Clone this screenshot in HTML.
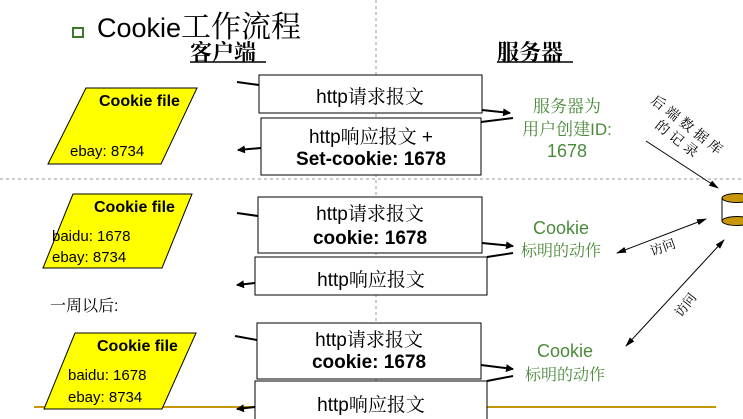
<!DOCTYPE html>
<html><head><meta charset="utf-8"><style>
html,body{margin:0;padding:0;background:#fff}
svg{display:block}
text{font-family:"Liberation Sans","Noto Serif CJK SC",sans-serif}
.g{fill:#4a8a3a}
</style></head><body>
<svg width="743" height="419" viewBox="0 0 743 419" xmlns="http://www.w3.org/2000/svg">
<defs>
<marker id="a" markerWidth="8" markerHeight="8" refX="7" refY="4" orient="auto" markerUnits="userSpaceOnUse"><path d="M0,0 L8,4 L0,8 z" fill="#000"/></marker>
<marker id="b" markerWidth="10" markerHeight="8" refX="9" refY="4" orient="auto" markerUnits="userSpaceOnUse"><path d="M0,1 L10,4 L0,7 z" fill="#000"/></marker>
<marker id="s" markerWidth="10" markerHeight="8" refX="1" refY="4" orient="auto" markerUnits="userSpaceOnUse"><path d="M10,1 L0,4 L10,7 z" fill="#000"/></marker>
</defs>
<line x1="376" y1="0" x2="376" y2="419" stroke="#999" stroke-dasharray="3,3"/>
<line x1="0" y1="179" x2="743" y2="179" stroke="#999" stroke-dasharray="3,3"/>
<line x1="34" y1="407" x2="716" y2="407" stroke="#c8960a" stroke-width="2"/>
<!-- title -->
<rect x="73" y="28" width="10" height="9" fill="#fff" stroke="#3c7a2a" stroke-width="2"/>
<text x="97" y="37" font-size="27">Cookie<tspan font-size="30">工作流程</tspan></text>
<text x="190" y="60" font-size="22" font-weight="bold">客户端</text>
<line x1="190" y1="62" x2="266" y2="62" stroke="#000" stroke-width="1.5"/>
<text x="497" y="60" font-size="22" font-weight="bold">服务器</text>
<line x1="497" y1="62" x2="573" y2="62" stroke="#000" stroke-width="1.5"/>
<!-- parallelograms -->
<polygon points="86,88 197,88 161,164 48,164" fill="#ffff00" stroke="#000"/>
<text x="99" y="106" font-size="16" font-weight="bold">Cookie file</text>
<text x="70" y="156" font-size="15">ebay: 8734</text>
<polygon points="73,194 192,194 162,268 43,268" fill="#ffff00" stroke="#000"/>
<text x="94" y="212" font-size="16" font-weight="bold">Cookie file</text>
<text x="52" y="241" font-size="15">baidu: 1678</text>
<text x="52" y="262" font-size="15">ebay: 8734</text>
<polygon points="75,333 196,333 162,409 44,409" fill="#ffff00" stroke="#000"/>
<text x="97" y="351" font-size="16" font-weight="bold">Cookie file</text>
<text x="68" y="380" font-size="15">baidu: 1678</text>
<text x="68" y="402" font-size="15">ebay: 8734</text>
<!-- boxes -->
<rect x="259" y="75" width="223" height="38" fill="#fff" stroke="#000"/>
<text x="370" y="103" font-size="19" text-anchor="middle">http请求报文</text>
<rect x="261" y="118" width="220" height="57" fill="#fff" stroke="#000"/>
<text x="371" y="143" font-size="19" text-anchor="middle">http响应报文 +</text>
<text x="371" y="165" font-size="19" font-weight="bold" text-anchor="middle">Set-cookie: 1678</text>
<rect x="258" y="197" width="224" height="56" fill="#fff" stroke="#000"/>
<text x="370" y="220" font-size="19" text-anchor="middle">http请求报文</text>
<text x="370" y="244" font-size="19" font-weight="bold" text-anchor="middle">cookie: 1678</text>
<rect x="255" y="257" width="232" height="38" fill="#fff" stroke="#000"/>
<text x="371" y="286" font-size="19" text-anchor="middle">http响应报文</text>
<rect x="257" y="323" width="224" height="56" fill="#fff" stroke="#000"/>
<text x="369" y="346" font-size="19" text-anchor="middle">http请求报文</text>
<text x="369" y="368" font-size="19" font-weight="bold" text-anchor="middle">cookie: 1678</text>
<rect x="255" y="381" width="232" height="45" fill="#fff" stroke="#000"/>
<text x="371" y="411" font-size="19" text-anchor="middle">http响应报文</text>
<!-- connector lines -->
<g stroke="#000" stroke-width="2">
<line x1="237" y1="82" x2="259" y2="85"/>
<line x1="261" y1="148" x2="238" y2="150" marker-end="url(#a)"/>
<line x1="482" y1="110" x2="510" y2="113" marker-end="url(#a)"/>
<line x1="481" y1="122" x2="513" y2="118"/>
<line x1="237" y1="213" x2="258" y2="216"/>
<line x1="482" y1="243" x2="513" y2="246" marker-end="url(#a)"/>
<line x1="487" y1="257" x2="513" y2="253"/>
<line x1="255" y1="283" x2="237" y2="285" marker-end="url(#a)"/>
<line x1="235" y1="336" x2="257" y2="340"/>
<line x1="481" y1="365" x2="513" y2="369" marker-end="url(#a)"/>
<line x1="487" y1="381" x2="513" y2="376"/>
<line x1="255" y1="407" x2="237" y2="409" marker-end="url(#a)"/>
</g>
<!-- green -->
<text class="g" x="567" y="112" font-size="17" text-anchor="middle">服务器为</text>
<text class="g" x="567" y="135" font-size="17" text-anchor="middle">用户创建ID:</text>
<text class="g" x="567" y="157" font-size="18" text-anchor="middle">1678</text>
<text class="g" x="561" y="234" font-size="18" text-anchor="middle">Cookie</text>
<text class="g" x="561" y="256" font-size="16" text-anchor="middle">标明的动作</text>
<text class="g" x="565" y="357" font-size="18" text-anchor="middle">Cookie</text>
<text class="g" x="565" y="380" font-size="16" text-anchor="middle">标明的动作</text>
<text x="50" y="311" font-size="16">一周以后:</text>
<!-- right side -->
<text transform="translate(650,102) rotate(38)" font-size="14" letter-spacing="4">后端数据库</text>
<text transform="translate(654,127) rotate(38)" font-size="14" letter-spacing="4">的记录</text>
<line x1="646" y1="141" x2="718" y2="188" stroke="#000" stroke-width="1" marker-end="url(#b)"/>
<rect x="722" y="198" width="25" height="23" fill="#fff" stroke="none"/>
<line x1="722" y1="198" x2="722" y2="221" stroke="#000"/>
<ellipse cx="737" cy="221" rx="15" ry="4.5" fill="#c8960a" stroke="#000"/>
<ellipse cx="737" cy="198" rx="15" ry="4.5" fill="#c8960a" stroke="#000"/>
<line x1="617" y1="253" x2="706" y2="219" stroke="#000" stroke-width="1" marker-start="url(#s)" marker-end="url(#b)"/>
<text transform="translate(652,256) rotate(-20)" font-size="13">访问</text>
<line x1="626" y1="346" x2="724" y2="240" stroke="#000" stroke-width="1" marker-start="url(#s)" marker-end="url(#b)"/>
<text transform="translate(681,318) rotate(-52)" font-size="13">访问</text>
</svg>
</body></html>
